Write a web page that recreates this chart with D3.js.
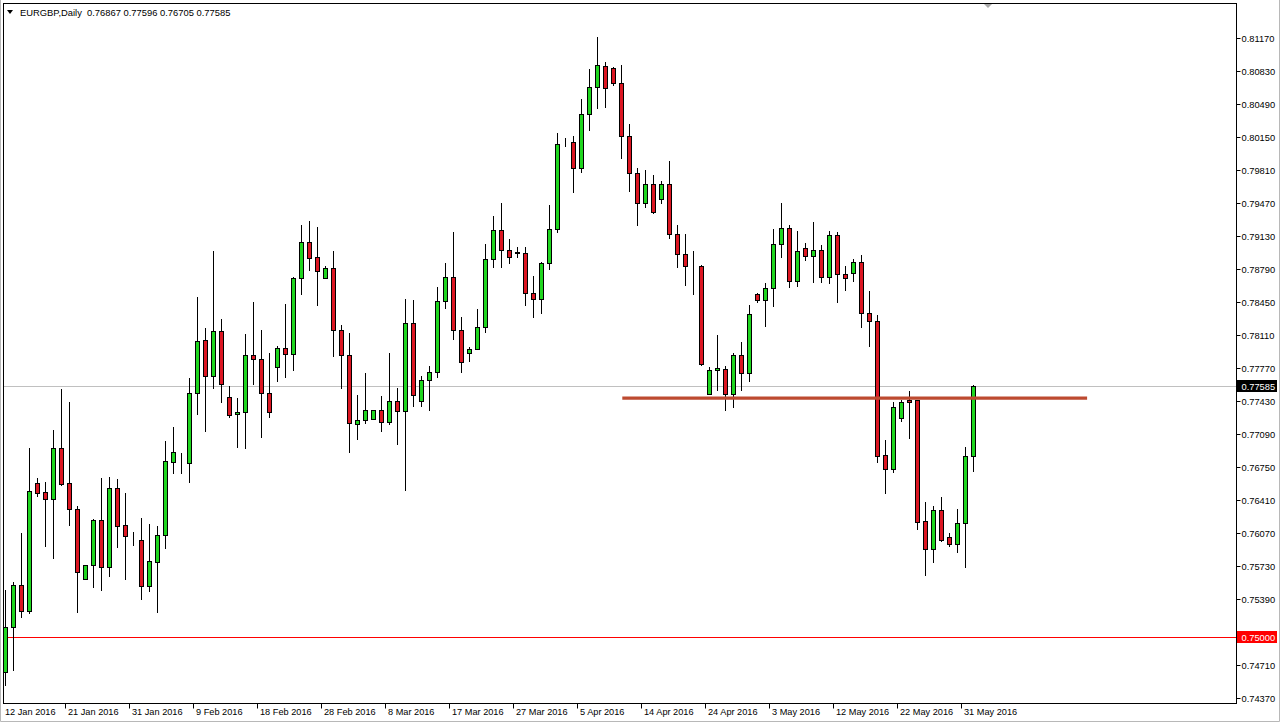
<!DOCTYPE html>
<html><head><meta charset="utf-8">
<script src="https://cdn.jsdelivr.net/npm/d3@7"></script>
<style>html,body{margin:0;padding:0;background:#fff;overflow:hidden}</style>
</head><body>
<svg id="c" width="1281" height="724"></svg>
<script>
// ---- data (EURGBP Daily) ----
const symbolTitle = "EURGBP,Daily";
const lastBar = ["0.76867","0.77596","0.76705","0.77585"];
const opens = [0.74633,0.75106,0.75533,0.75265,0.76583,0.76490,0.76419,0.76944,0.76583,0.76316,
0.75595,0.75739,0.76205,0.75724,0.76535,0.76150,0.75992,0.75999,0.75529,0.75776,
0.76048,0.76806,0.76803,0.76796,0.77510,0.78056,0.77692,0.78149,0.77469,0.77294,
0.77315,0.77902,0.77861,0.77510,0.77784,0.77974,0.77912,0.78695,0.79066,0.78911,
0.78695,0.78798,0.78162,0.77902,0.77191,0.77235,0.77246,0.77335,0.77212,0.77428,
0.77325,0.78231,0.77428,0.77644,0.77727,0.78458,0.78705,0.78162,0.77922,0.77964,
0.78196,0.78890,0.79192,0.78986,0.78963,0.78952,0.78540,0.78479,0.78849,0.79200,
0.80096,0.80096,0.79828,0.80384,0.80662,0.80882,0.80858,0.80703,0.80164,0.79783,
0.79474,0.79663,0.79509,0.79666,0.79148,0.78942,0.78826,0.78822,0.77500,0.77747,
0.77758,0.77500,0.77905,0.77723,0.78530,0.78471,0.78592,0.79048,0.79210,0.78667,
0.79004,0.78925,0.78986,0.78705,0.79141,0.78739,0.78753,0.78863,0.78334,0.78258,
0.76872,0.76728,0.77253,0.77438,0.77438,0.76195,0.75904,0.76308,0.76027,0.75958,
0.76171,0.76867];
const highs = [0.75484,0.75570,0.76068,0.76944,0.76635,0.76600,0.77132,0.77552,0.77424,0.76350,
0.75739,0.76210,0.76635,0.76651,0.76625,0.76480,0.76085,0.76229,0.76164,0.76147,
0.77019,0.77163,0.76892,0.77665,0.78505,0.78180,0.78976,0.78273,0.77589,0.77465,
0.78121,0.78451,0.78162,0.77922,0.78000,0.78427,0.78705,0.79244,0.79285,0.79220,
0.78822,0.78976,0.78214,0.78135,0.77493,0.77716,0.77341,0.77483,0.77922,0.77562,
0.78479,0.78468,0.77689,0.77792,0.78605,0.78856,0.79175,0.78293,0.77991,0.78379,
0.79048,0.79337,0.79467,0.79100,0.79014,0.79014,0.78719,0.78866,0.79450,0.80188,
0.80137,0.80161,0.80542,0.80846,0.81177,0.80926,0.80868,0.80892,0.80281,0.79828,
0.79810,0.79759,0.79700,0.79900,0.79244,0.79151,0.78976,0.78832,0.77784,0.78111,
0.77792,0.77929,0.78042,0.78420,0.78540,0.78643,0.79200,0.79474,0.79244,0.79185,
0.79062,0.79278,0.79038,0.79182,0.79172,0.78825,0.78891,0.78935,0.78564,0.78317,
0.77029,0.77424,0.77441,0.77531,0.77438,0.76391,0.76350,0.76445,0.76075,0.76316,
0.76960,0.77596];
const lows = [0.74506,0.74660,0.75209,0.75250,0.76453,0.75941,0.75817,0.76566,0.76154,0.75251,
0.75595,0.75518,0.75484,0.75629,0.75930,0.75595,0.75948,0.75392,0.75477,0.75251,
0.75920,0.76693,0.76687,0.76600,0.77297,0.77122,0.77562,0.77418,0.77270,0.76960,
0.76950,0.77606,0.77063,0.77263,0.77640,0.77681,0.77750,0.78533,0.78780,0.78420,
0.78695,0.77895,0.77568,0.76903,0.77043,0.77208,0.77246,0.77125,0.77197,0.76988,
0.76514,0.77380,0.77383,0.77338,0.77681,0.78392,0.78067,0.77733,0.77846,0.77964,
0.78139,0.78808,0.78814,0.78849,0.78917,0.78420,0.78299,0.78341,0.78788,0.79175,
0.80061,0.79587,0.79793,0.80222,0.80446,0.80462,0.80686,0.79937,0.79594,0.79244,
0.79426,0.79371,0.79470,0.79107,0.78814,0.78626,0.78533,0.77805,0.77500,0.77544,
0.77338,0.77372,0.77544,0.77640,0.78454,0.78204,0.78410,0.78917,0.78608,0.78619,
0.78883,0.78660,0.78660,0.78650,0.78454,0.78574,0.78670,0.78196,0.77998,0.76806,
0.76487,0.76703,0.77228,0.77047,0.76110,0.75639,0.75776,0.75989,0.75938,0.75879,
0.75718,0.76705];
const closes = [0.75106,0.75533,0.75265,0.76501,0.76487,0.76419,0.76944,0.76576,0.76316,0.75673,
0.75739,0.76205,0.75724,0.76535,0.76147,0.76044,0.75989,0.75529,0.75780,0.76048,
0.76813,0.76903,0.76800,0.77510,0.78049,0.77692,0.78149,0.77603,0.77287,0.77315,
0.77902,0.77861,0.77510,0.77315,0.77974,0.77912,0.78698,0.79066,0.78907,0.78773,
0.78798,0.78162,0.77902,0.77201,0.77232,0.77335,0.77341,0.77218,0.77428,0.77325,
0.78231,0.77490,0.77644,0.77727,0.78458,0.78705,0.78162,0.77830,0.77964,0.78196,
0.78890,0.79192,0.78986,0.78911,0.78960,0.78540,0.78479,0.78849,0.79200,0.80075,
0.80094,0.79828,0.80384,0.80662,0.80892,0.80652,0.80703,0.80164,0.79783,0.79474,
0.79663,0.79381,0.79666,0.79148,0.78942,0.78825,0.78818,0.77812,0.77747,0.77768,
0.77500,0.77905,0.77723,0.78327,0.78471,0.78592,0.79048,0.79210,0.78667,0.78979,
0.78925,0.78986,0.78705,0.79141,0.78736,0.78695,0.78863,0.78334,0.78258,0.76865,
0.76728,0.77372,0.77424,0.77424,0.76188,0.75904,0.76308,0.75999,0.75958,0.76171,
0.76868,0.77585];
const dateTickIndex = [0,8,16,24,32,40,48,56,64,72,80,88,96,104,112,120];
const dateTickLabels = ["12 Jan 2016","21 Jan 2016","31 Jan 2016","9 Feb 2016","18 Feb 2016","28 Feb 2016","8 Mar 2016","17 Mar 2016","27 Mar 2016","5 Apr 2016","14 Apr 2016","24 Apr 2016","3 May 2016","12 May 2016","22 May 2016","31 May 2016"];
const priceTickLabels = ["0.81170","0.80830","0.80490","0.80150","0.79810","0.79470","0.79130","0.78790","0.78450","0.78110","0.77770","0.77430","0.77090","0.76750","0.76410","0.76070","0.75730","0.75390","0.74710","0.74370"];
const currentPrice = 0.77585;
const levelPrice = 0.75000;
const trendPrice = 0.77460;
const trendFromBar = 77.1, trendToBar = 135.2;

// ---- drawing ----
const svg = d3.select("#c");
const W = 1281, H = 724;
const plot = {l: 3.5, t: 3.5, r: 1236.5, b: 703.5};
const n = opens.length;
const x = d3.scaleLinear().domain([0, n - 1]).range([5.5, 5.5 + 8 * (n - 1)]);
const y = d3.scaleLinear().domain([0.74370, 0.81170]).range([698, 38]);
const py = v => Math.round(y(v)) + 0.5;
const FONT = "'Liberation Sans', Arial, sans-serif";

svg.append("rect").attr("width", W).attr("height", H).attr("fill", "#fff");
// outer window border
svg.append("path").attr("d", `M0.5,0 V${H-2.5} H${W-1.5} V0`).attr("fill","none").attr("stroke","#b8b8b8");

const defs = svg.append("defs");
defs.append("clipPath").attr("id","clip").append("rect")
  .attr("x", plot.l).attr("y", plot.t).attr("width", plot.r - plot.l).attr("height", plot.b - plot.t);
const f = defs.append("filter").attr("id","blur").attr("x","-5%").attr("y","-200%").attr("width","110%").attr("height","500%");
f.append("feGaussianBlur").attr("stdDeviation", 1.8);

const g = svg.append("g").attr("clip-path","url(#clip)");

// horizontal lines (as 1px filled rects for crisp colour)
g.append("rect").attr("x", plot.l).attr("width", plot.r - plot.l).attr("y", py(currentPrice) - 0.5).attr("height", 1)
  .attr("fill", "#c0c0c0").attr("shape-rendering","crispEdges");
g.append("rect").attr("x", plot.l).attr("width", plot.r - plot.l).attr("y", py(levelPrice) - 0.5).attr("height", 1)
  .attr("fill", "#ff0000").attr("shape-rendering","crispEdges");

// candles
const bars = d3.range(n).map(i => ({i, o: opens[i], h: highs[i], l: lows[i], c: closes[i]}));
const cg = g.append("g");
cg.selectAll("line.wick").data(bars).join("line").attr("class","wick")
  .attr("x1", d => x(d.i)).attr("x2", d => x(d.i))
  .attr("y1", d => Math.round(y(d.h))).attr("y2", d => Math.round(y(d.l)) + 1)
  .attr("stroke", "#000").attr("stroke-width", 1);
cg.selectAll("rect.body").data(bars).join("rect").attr("class","body")
  .attr("x", d => x(d.i) - 2)
  .attr("width", 4)
  .attr("y", d => Math.round(y(Math.max(d.o, d.c))) + 0.5)
  .attr("height", d => Math.max(0, Math.round(y(Math.min(d.o, d.c))) - Math.round(y(Math.max(d.o, d.c)))))
  .attr("fill", d => d.c > d.o ? "#1fd61f" : (d.c < d.o ? "#dc1622" : "#000"))
  .attr("stroke", "#000").attr("stroke-width", 1);

// trendline with shadow
g.append("line").attr("x1", x(trendFromBar) + 3).attr("x2", x(trendToBar) + 3)
  .attr("y1", y(trendPrice) + 5).attr("y2", y(trendPrice) + 5)
  .attr("stroke", "#808080").attr("stroke-width", 5).attr("opacity", 0.8).attr("filter","url(#blur)");
g.append("line").attr("x1", x(trendFromBar)).attr("x2", x(trendToBar))
  .attr("y1", y(trendPrice)).attr("y2", y(trendPrice))
  .attr("stroke", "#bd4a30").attr("stroke-width", 3.4);

// frame
svg.append("rect").attr("x", plot.l).attr("y", plot.t).attr("width", plot.r - plot.l).attr("height", plot.b - plot.t)
  .attr("fill","none").attr("stroke","#000").attr("stroke-width",1);

// shift marker triangle at top
const sx = x(n - 1) + 14.5;
svg.append("path").attr("d", `M${sx-4},${plot.t+0.5} L${sx+4},${plot.t+0.5} L${sx},${plot.t+4.5} Z`).attr("fill","#a8a8a8");

// right price axis
const ra = svg.append("g");
priceTickLabels.forEach(t => {
  const v = +t, yy = py(v);
  ra.append("line").attr("x1", plot.r).attr("x2", plot.r + 4).attr("y1", yy).attr("y2", yy).attr("stroke","#000");
  ra.append("text").attr("x", plot.r + 5).attr("y", yy).attr("dy","0.35em")
    .attr("font-family", FONT).attr("font-size", "9.3px").attr("fill","#000").text(t);
});
[[currentPrice, "#000"], [levelPrice, "#ff0000"]].forEach(([v, col]) => {
  const yy = py(v);
  ra.append("rect").attr("x", plot.r + 0.5).attr("y", yy - 6.5).attr("width", 40).attr("height", 12).attr("fill", col);
  ra.append("text").attr("x", plot.r + 5).attr("y", yy).attr("dy","0.35em")
    .attr("font-family", FONT).attr("font-size", "9.3px").attr("fill","#fff").text(v.toFixed(5));
});

// bottom date axis
const ba = svg.append("g");
dateTickIndex.forEach((idx, j) => {
  const xx = Math.round(x(idx) - 5) + 0.5;
  if (j > 0) ba.append("line").attr("x1", xx).attr("x2", xx).attr("y1", plot.b).attr("y2", plot.b + 5).attr("stroke","#000");
  ba.append("text").attr("x", Math.max(5, x(idx) - 1.5)).attr("y", 715)
    .attr("font-family", FONT).attr("font-size", "9.2px").attr("fill","#000").text(dateTickLabels[j]);
});

// title
svg.append("path").attr("d", "M7,10 L13,10 L10,14 Z").attr("fill","#000");
svg.append("text").attr("x", 20).attr("y", 16).attr("font-family", FONT).attr("font-size","9.4px").attr("fill","#000")
  .attr("xml:space","preserve")
  .text(symbolTitle + "  " + lastBar.join(" "));
</script>
</body></html>
